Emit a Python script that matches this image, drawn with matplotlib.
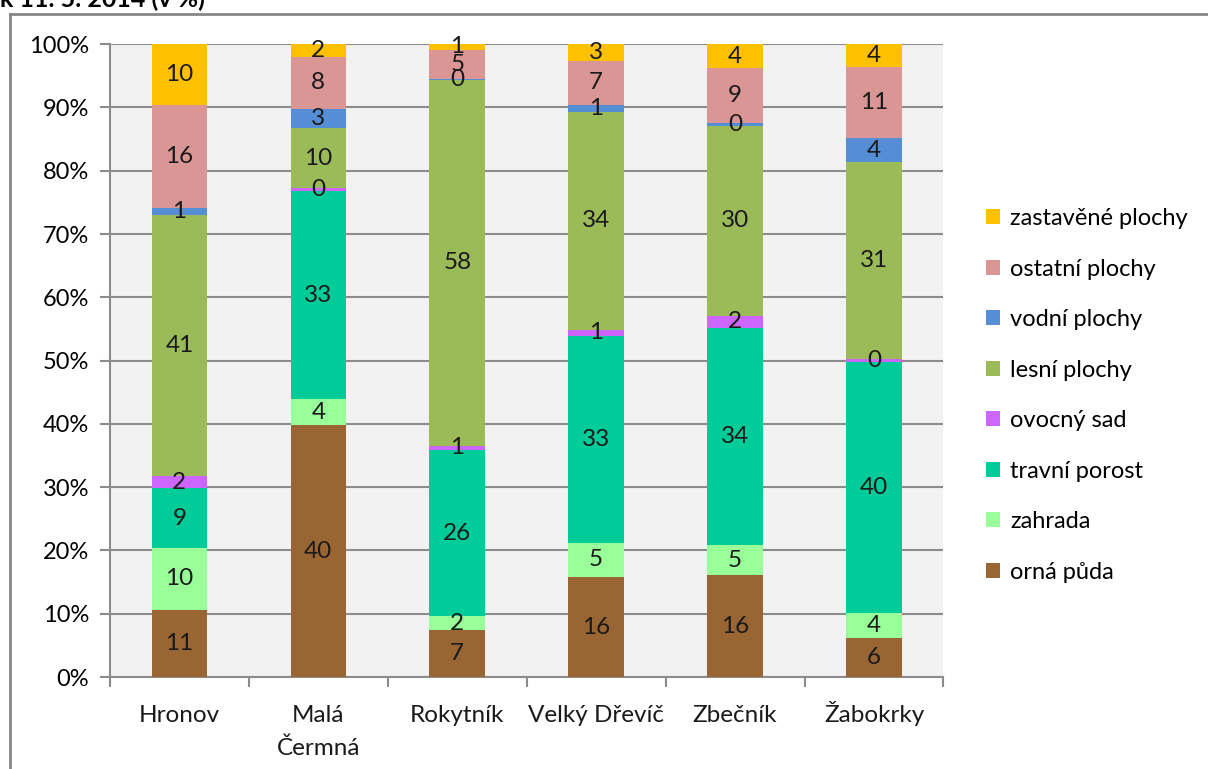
import numpy as np
import matplotlib
matplotlib.use("Agg")
import matplotlib.pyplot as plt
from matplotlib.lines import Line2D

plt.rcParams['font.family'] = ['Lato', 'DejaVu Sans']

obce = ['Hronov', 'Malá\nČermná', 'Rokytník', 'Velký Dřevíč', 'Zbečník', 'Žabokrky']

# shares in % (bottom -> top)
orna = [10.6, 39.8, 7.4, 15.8, 16.1, 6.2]
zahrada = [9.8, 4.1, 2.2, 5.4, 4.7, 3.9]
travni = [9.4, 32.9, 26.3, 32.7, 34.3, 39.7]
ovocny = [1.9, 0.4, 0.6, 1.0, 2.0, 0.4]
lesni = [41.3, 9.6, 57.9, 34.4, 30.0, 31.2]
vodni = [1.1, 3.0, 0.1, 1.1, 0.4, 3.7]
ostatni = [16.3, 8.2, 4.6, 7.0, 8.7, 11.3]
zastavene = [9.6, 2.0, 0.9, 2.6, 3.8, 3.6]

series = [
    ('orná půda', orna, '#996633'),
    ('zahrada', zahrada, '#99FF99'),
    ('travní porost', travni, '#00CC99'),
    ('ovocný sad', ovocny, '#CC66FF'),
    ('lesní plochy', lesni, '#9BBB59'),
    ('vodní plochy', vodni, '#558ED5'),
    ('ostatní plochy', ostatni, '#D99694'),
    ('zastavěné plochy', zastavene, '#FFC000'),
]

fig = plt.figure(figsize=(12.08, 7.69), dpi=100)
ax = fig.add_axes([0.091, 0.1196, 0.690, 0.823])
ax.set_facecolor('#F2F2F2')

x = np.arange(len(obce))
bottom = np.zeros(len(obce))
handles = []
for name, vals, col in series:
    vals = np.array(vals)
    b = ax.bar(x, vals, 0.4, bottom=bottom, color=col, label=name, zorder=3)
    handles.append(b)
    for xi, v, bt in zip(x, vals, bottom):
        ax.text(xi, bt + v / 2, '%.0f' % v, ha='center', va='center',
                fontsize=17.5, color='#1a1a1a', zorder=4)
    bottom += vals

ax.set_xlim(-0.5, len(obce) - 0.5)
ax.set_ylim(0, 100)
ax.set_yticks(np.arange(0, 101, 10))
ax.set_yticklabels(['%d%%' % v for v in range(0, 101, 10)])
ax.yaxis.grid(True, color='#8C8C8C', linewidth=1.5, zorder=0)

# category labels, each line on its own baseline (like the original)
ax.set_xticks(x)
ax.set_xticklabels([])
for xi, name in zip(x, obce):
    for i, line in enumerate(name.split('\n')):
        ax.annotate(line, xy=(xi, 0), xycoords=ax.get_xaxis_transform(),
                    xytext=(0, -32.4 - i * 23.8), textcoords='offset points',
                    ha='center', va='baseline', fontsize=17.5, color='#1a1a1a')
ax.set_xticks(np.arange(-0.5, len(obce)), minor=True)
ax.tick_params(axis='x', which='major', length=0)
ax.tick_params(axis='x', which='minor', length=7, color='#8C8C8C', width=1.5)
ax.tick_params(axis='y', length=7, color='#8C8C8C', width=1.5, labelsize=17, pad=8)
for s in ['top', 'right']:
    ax.spines[s].set_visible(False)
for s in ['left', 'bottom']:
    ax.spines[s].set_color('#8C8C8C')
    ax.spines[s].set_linewidth(1.5)

leg = ax.legend(handles[::-1], [s[0] for s in series][::-1],
                loc='center left', bbox_to_anchor=(1.025, 0.445), frameon=False,
                fontsize=17, handlelength=0.6, handleheight=0.6,
                handletextpad=0.45, labelspacing=1.25)

# outer chart frame (partly cropped)
fig.add_artist(Line2D([10 / 1208, 10 / 1208], [0, 1 - 14 / 769],
                      transform=fig.transFigure, color='#868686', linewidth=2))
fig.add_artist(Line2D([10 / 1208, 1], [1 - 14 / 769, 1 - 14 / 769],
                      transform=fig.transFigure, color='#868686', linewidth=2))

fig.text(0.0, 1 - 7 / 769, 'k 11. 5. 2014 (v %)', fontsize=18,
         fontweight='bold', va='baseline', ha='left')

fig.savefig('out.png', dpi=100, facecolor='white')
